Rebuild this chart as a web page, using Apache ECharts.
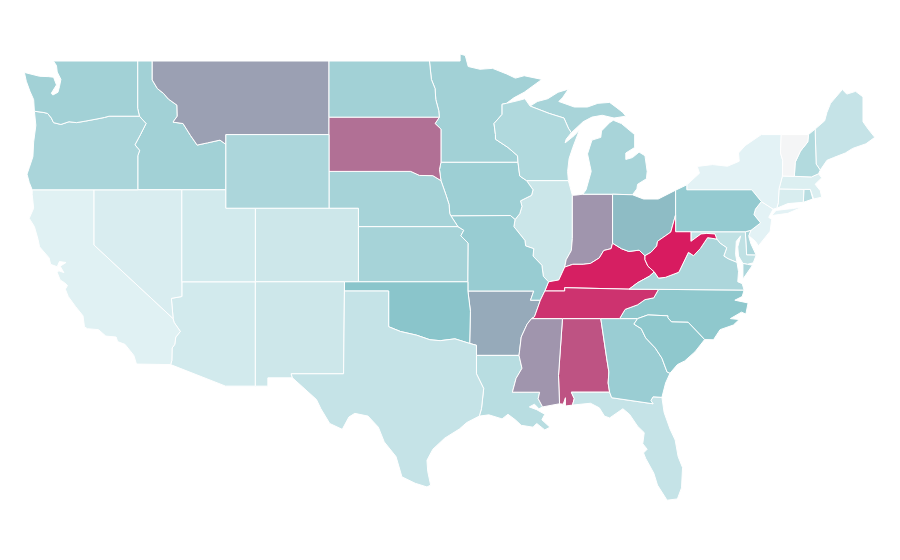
<!DOCTYPE html>
<html>
<head>
<meta charset="utf-8">
<style>html,body{margin:0;padding:0;background:#fff}#c{width:900px;height:560px}</style>
<script src="https://cdn.jsdelivr.net/npm/echarts@6/dist/echarts.min.js"></script>
</head>
<body>
<div id="c"></div>
<script>
// ---- chart values ----
const stateNames = ['Alabama','Arizona','Arkansas','California','Colorado','Connecticut','Delaware','Florida','Georgia','Idaho','Illinois','Indiana','Iowa','Kansas','Kentucky','Louisiana','Maine','Maryland','Massachusetts','Michigan','Minnesota','Mississippi','Missouri','Montana','Nebraska','Nevada','New Hampshire','New Jersey','New Mexico','New York','North Carolina','North Dakota','Ohio','Oklahoma','Oregon','Pennsylvania','Rhode Island','South Carolina','South Dakota','Tennessee','Texas','Utah','Vermont','Virginia','Washington','West Virginia','Wisconsin','Wyoming'];
const stateValues = [89,40,72,35,41.8,37.7,54,44.8,60.7,57.7,42.5,76,59.6,56.2,99.3,49.6,44.8,46.6,36.3,55.5,57.7,76,61.4,74,56.2,37.4,51.8,33.7,41.8,33.7,64.8,57.7,68.4,66.7,54.8,62.9,49.6,64.8,83.4,95.3,44.8,40,0,54,57.7,100,52.5,54];
const scaleColors = ['#f4f5f6','#e4f3f5','#8ac5cb','#d81b60'];

// ---- state outlines, longitude / latitude ----
const r = a => a.slice().reverse();
const WA_COAST=[[-122.76,49],[-122.55,48.75],[-122.5,48.4],[-122.25,48.0],[-122.35,47.6],[-122.45,47.3],[-122.8,47.15],[-122.9,47.25],[-122.55,47.7],[-122.75,48.12],[-123.1,48.15],[-123.7,48.17],[-124.73,48.38],[-124.6,47.9],[-124.35,47.35],[-124.1,46.9],[-124.05,46.27]];
const COLUMBIA=[[-124.05,46.27],[-123.4,46.2],[-123.15,46.15],[-122.9,45.9],[-122.75,45.65],[-122.25,45.55],[-121.7,45.7],[-121.2,45.65],[-120.6,45.73],[-119.8,45.85],[-119.3,45.93],[-118.98,46.0],[-116.92,46.0]];
const ID_WA=[[-117.04,49],[-117.04,46.43],[-116.92,46.0]];
const SNAKE=[[-116.92,46.0],[-116.47,45.6],[-116.85,45.0],[-117.22,44.45],[-117.03,44.25],[-116.9,44.15],[-117.03,43.85],[-117.03,42]];
const OR_COAST=[[-124.05,46.27],[-123.95,45.5],[-124.1,44.6],[-124.15,43.8],[-124.4,43.2],[-124.55,42.85],[-124.4,42.4],[-124.2,42]];
const BITTERROOT=[[-116.05,49],[-116.05,47.97],[-115.7,47.5],[-115.3,47.25],[-114.95,46.93],[-114.37,46.6],[-114.35,46.0],[-114.64,45.68],[-113.96,45.6],[-113.45,44.95],[-113.0,44.43],[-112.3,44.55],[-111.45,44.7],[-111.05,44.47]];
const CA_COAST=[[-124.2,42],[-124.2,41.75],[-124.1,41],[-124.4,40.45],[-124.05,40],[-123.8,39.3],[-123.7,38.9],[-123.05,38.3],[-122.95,37.95],[-122.5,37.82],[-122.35,38.1],[-121.9,38.05],[-122.3,37.85],[-122.05,37.5],[-122.4,37.6],[-122.5,37.5],[-122.3,37.1],[-122.0,36.95],[-121.8,36.8],[-121.95,36.6],[-121.75,36.2],[-121.25,35.65],[-120.75,35.15],[-120.65,34.55],[-120.45,34.45],[-119.7,34.4],[-119.2,34.05],[-118.5,34.0],[-118.4,33.75],[-117.9,33.6],[-117.3,33.0],[-117.12,32.53]];
const COLO=[[-114.63,35.0],[-114.57,34.8],[-114.14,34.3],[-114.45,34.0],[-114.52,33.6],[-114.7,33.4],[-114.72,32.72]];
const ND_MN=[[-97.23,49],[-97.1,48.0],[-96.85,47.5],[-96.8,46.9],[-96.6,46.3],[-96.56,45.94]];
const SD_MN=[[-96.56,45.94],[-96.85,45.6],[-96.45,45.3],[-96.45,43.5]];
const SD_IA=[[-96.45,43.5],[-96.55,43.1],[-96.45,42.5]];
const SD_NE=[[-96.45,42.5],[-97.0,42.77],[-97.9,42.78],[-98.5,43.0],[-104.05,43.0]];
const NE_IA=[[-96.45,42.5],[-96.1,41.7],[-95.9,41.2],[-95.85,40.7],[-95.77,40.58]];
const NE_MO=[[-95.77,40.58],[-95.3,40]];
const KS_MO=[[-95.3,40],[-94.9,39.8],[-95.1,39.5],[-94.6,39.1],[-94.62,37]];
const RED=[[-100,34.56],[-99.2,34.3],[-98.1,34.1],[-97.2,33.85],[-96.5,33.8],[-95.5,33.9],[-94.5,33.65]];
const MN_WI=[[-92.0,46.7],[-92.3,46.65],[-92.3,46.1],[-92.85,45.6],[-92.75,45.0],[-92.75,44.75],[-91.9,44.3],[-91.25,43.85],[-91.22,43.5]];
const IA_WI=[[-91.22,43.5],[-91.1,42.75],[-90.64,42.5]];
const IA_IL=[[-90.64,42.5],[-90.2,42.0],[-90.3,41.7],[-91.05,41.4],[-90.95,41.1],[-91.1,40.7],[-91.42,40.38]];
const MO_IL=[[-91.42,40.38],[-91.5,40.0],[-90.75,39.25],[-90.7,38.95],[-90.15,38.8],[-90.2,38.4],[-89.6,37.9],[-89.5,37.3],[-89.15,37.0]];
const AR_TN=[[-89.7,36.0],[-90.1,35.1],[-90.3,35.0]];
const AR_MS=[[-90.3,35.0],[-90.6,34.7],[-91.0,34.0],[-91.15,33.0]];
const LA_MS=[[-91.15,33.0],[-90.95,32.3],[-91.35,31.75],[-91.6,31.0],[-89.75,31.0],[-89.85,30.65],[-89.55,30.2]];
const WI_MI=[[-90.4,46.55],[-89.1,46.15],[-88.1,45.9],[-87.8,45.35],[-87.6,45.1]];
const WABASH=[[-87.53,39.35],[-87.6,38.7],[-87.95,38.2],[-88.05,37.8]];
const IL_KY=[[-88.05,37.8],[-88.45,37.1],[-89.15,37.0]];
const IN_KY=[[-84.8,39.1],[-84.9,38.8],[-85.4,38.7],[-85.7,38.3],[-86.3,38.0],[-86.8,37.95],[-87.5,37.95],[-88.05,37.8]];
const OH_KY=[[-82.6,38.42],[-83.0,38.72],[-83.7,38.65],[-84.2,38.8],[-84.8,39.1]];
const WV_KY=[[-81.97,37.54],[-82.4,37.85],[-82.6,38.2],[-82.6,38.42]];
const VA_KY=[[-83.68,36.6],[-83.1,36.95],[-82.3,37.3],[-81.97,37.54]];
const OH_WV=[[-80.52,40.64],[-80.85,39.7],[-81.75,39.2],[-81.8,38.95],[-82.2,38.6],[-82.6,38.42]];
const MD_WV=[[-79.48,39.2],[-78.8,39.6],[-78.4,39.63],[-77.85,39.6],[-77.72,39.32]];
const WV_VA=[[-77.72,39.32],[-78.35,39.4],[-78.85,38.8],[-79.3,38.42],[-79.65,38.6],[-80.3,37.52],[-81.22,37.24],[-81.68,37.2],[-81.97,37.54]];
const POTOMAC=[[-77.72,39.32],[-77.5,39.1],[-77.05,38.85],[-77.25,38.4],[-76.95,38.25],[-76.35,38.05]];
const TN_NC=[[-81.68,36.59],[-82.0,36.13],[-82.6,36.03],[-83.1,35.75],[-83.95,35.5],[-84.32,35.0]];
const NC_SC=[[-83.1,35.0],[-82.4,35.2],[-81.05,35.15],[-81.05,35.05],[-80.8,34.82],[-79.67,34.8],[-78.55,33.86]];
const GA_SC=[[-83.1,35.0],[-83.35,34.7],[-82.85,34.45],[-82.55,33.95],[-81.9,33.4],[-81.45,32.85],[-81.1,32.1],[-80.9,32.03]];
const FL_GA=[[-81.45,30.72],[-82.05,30.75],[-82.2,30.55],[-82.05,30.37],[-84.86,30.7],[-85.0,31.0]];
const AL_GA=[[-85.6,35.0],[-85.2,32.85],[-85.05,32.1],[-85.1,31.5],[-85.0,31.0]];
const AL_FL=[[-85.0,31.0],[-87.6,31.0],[-87.4,30.65],[-87.52,30.3]];
const AL_MS=[[-88.2,35.0],[-88.47,31.9],[-88.4,30.37]];
const TX_LA=[[-93.85,29.7],[-93.7,30.1],[-93.55,31.2],[-94.04,32.0],[-94.04,33.0]];
const NY_VT=[[-73.35,45.0],[-73.4,44.0],[-73.25,43.6],[-73.27,42.75]];
const NY_NE=[[-73.27,42.75],[-73.5,42.05],[-73.55,41.3],[-73.65,41.0]];
const VT_NH=[[-71.5,45.0],[-71.55,44.6],[-72.05,44.1],[-72.4,43.5],[-72.46,42.73]];
const NH_MA=[[-72.46,42.73],[-71.3,42.7],[-70.82,42.87]];
const NH_ME=[[-71.05,45.3],[-70.98,43.4],[-70.7,43.07]];
const PA_DEL=[[-75.35,42],[-74.7,41.36],[-75.1,40.95],[-75.2,40.65],[-74.75,40.2],[-75.4,39.8]];

const shapes = {
 Washington:[[...ID_WA,...r(COLUMBIA),...r(WA_COAST)]],
 Oregon:[[...COLUMBIA,...SNAKE,...r(OR_COAST)]],
 Idaho:[[[-117.04,49],...BITTERROOT,[-111.05,42],...r(SNAKE),...r(ID_WA)]],
 Montana:[[[-104.05,49],[-104.05,45],[-111.05,45],...r(BITTERROOT)]],
 Wyoming:[[[-111.05,45],[-104.05,45],[-104.05,41],[-111.05,41]]],
 California:[[[-120,42],[-120,39],...COLO,[-114.8,32.5],...r(CA_COAST)]],
 Nevada:[[[-120,42],[-114.04,42],[-114.04,36.2],[-114.75,36.1],[-114.63,35],[-120,39]]],
 Arizona:[[[-114.04,37],[-109.05,37],[-109.05,31.33],[-111.07,31.33],[-114.8,32.5],...r(COLO),[-114.75,36.1],[-114.04,36.2]]],
 Utah:[[[-114.04,42],[-111.05,42],[-111.05,41],[-109.05,41],[-109.05,37],[-114.04,37]]],
 Colorado:[[[-109.05,41],[-102.05,41],[-102.05,37],[-109.05,37]]],
 'New Mexico':[[[-109.05,37],[-103,37],[-103.06,32],[-106.62,32],[-106.53,31.78],[-108.2,31.78],[-108.2,31.33],[-109.05,31.33]]],
 'North Dakota':[[[-104.05,49],...ND_MN,[-104.05,45.94]]],
 'South Dakota':[[[-104.05,45.94],...SD_MN,...SD_IA,...SD_NE]],
 Nebraska:[[[-104.05,43],...r(SD_NE),...NE_IA,...NE_MO,[-102.05,40],[-102.05,41],[-104.05,41]]],
 Kansas:[[[-102.05,40],...KS_MO,[-102.05,37]]],
 Oklahoma:[[[-103,37],[-94.62,37],[-94.62,36.5],[-94.45,35.4],...r(RED),[-100,36.5],[-103,36.5]]],
 Texas:[[[-103,36.5],[-100,36.5],...RED,[-94.04,33.55],...r(TX_LA),[-94.7,29.35],[-95.2,29.0],[-96.2,28.5],[-97.0,27.9],[-97.4,27.3],[-97.35,26.7],[-97.15,25.95],[-97.4,25.85],[-98.2,26.05],[-99.1,26.4],[-99.5,27.5],[-100.3,28.3],[-100.7,29.1],[-101.4,29.7],[-102.3,29.85],[-102.7,29.65],[-103.15,28.98],[-104.0,29.3],[-104.6,30.1],[-104.9,30.6],[-106.53,31.78],[-106.62,32],[-103.06,32]]],
 Minnesota:[[[-97.23,49],[-95.15,49],[-95.15,49.38],[-94.8,49.3],[-94.6,48.7],[-93.8,48.55],[-92.95,48.6],[-92.0,48.3],[-91.4,48.07],[-90.8,48.2],[-89.6,48.0],[-90.8,47.3],[-91.5,47.0],...MN_WI,...r(SD_MN),...r(ND_MN)]],
 Iowa:[[[-96.45,43.5],[-91.22,43.5],...IA_WI,...IA_IL,[-91.73,40.6],[-95.77,40.58],...r(NE_IA),...r(SD_IA)]],
 Missouri:[[[-95.77,40.58],[-91.73,40.6],...MO_IL,[-89.4,36.5],[-89.7,36.0],[-90.37,36.0],[-90.15,36.5],[-94.62,36.5],...r(KS_MO)]],
 Arkansas:[[[-94.62,36.5],[-90.15,36.5],[-90.37,36.0],...AR_TN,...AR_MS,[-94.04,33.0],[-94.04,33.55],[-94.5,33.65],[-94.45,35.4]]],
 Louisiana:[[[-94.04,33.0],...LA_MS,[-89.8,30.1],[-90.1,30.35],[-90.45,30.2],[-89.95,30.05],[-89.4,29.8],[-89.6,29.5],[-89.05,29.1],[-89.4,28.95],[-89.95,29.3],[-90.2,29.1],[-91.0,29.2],[-91.4,29.5],[-91.9,29.8],[-92.3,29.55],[-93.2,29.77],...TX_LA]],
 Wisconsin:[[...r(IA_WI),...r(MN_WI),[-91.2,46.85],[-90.75,46.95],...WI_MI,[-87.95,44.75],[-88.02,44.55],[-87.4,44.95],[-87.05,45.25],[-87.5,44.3],[-87.75,43.7],[-87.85,43.0],[-87.8,42.5]]],
 Michigan:[
  [...WI_MI,[-86.8,45.7],[-86.2,45.95],[-85.5,46.05],[-84.7,45.9],[-83.9,46.0],[-84.1,46.2],[-84.5,46.45],[-85.0,46.75],[-85.8,46.7],[-86.5,46.5],[-87.4,46.5],[-88.45,46.8],[-88.2,47.0],[-87.8,47.47],[-88.5,47.3],[-89.2,46.95],[-89.9,46.8]],
  [[-86.82,41.76],[-84.8,41.76],[-83.45,41.73],[-83.15,42.05],[-83.1,42.3],[-82.5,42.6],[-82.45,43.0],[-82.6,43.85],[-83.0,44.05],[-83.45,43.75],[-83.9,43.65],[-83.9,44.0],[-83.3,44.3],[-83.3,45.0],[-84.2,45.6],[-84.75,45.78],[-85.0,45.65],[-85.55,45.2],[-85.6,44.85],[-86.2,44.7],[-86.5,43.95],[-86.25,43.0],[-86.6,42.0]]
 ],
 Illinois:[[[-90.64,42.5],[-87.8,42.5],[-87.53,41.7],...WABASH,...IL_KY,...r(MO_IL),...r(IA_IL)]],
 Indiana:[[[-87.53,41.7],[-87.2,41.72],[-86.82,41.76],[-84.8,41.76],...IN_KY,...r(WABASH)]],
 Ohio:[[[-84.8,41.76],[-83.45,41.73],[-82.7,41.5],[-81.7,41.5],[-80.52,41.98],...OH_WV,...OH_KY]],
 Kentucky:[[...VA_KY,...WV_KY,...OH_KY,...IN_KY,...IL_KY,[-89.4,36.5],[-88.05,36.5],[-88.05,36.68]]],
 'West Virginia':[[[-80.52,40.64],[-80.52,39.72],[-79.48,39.72],...MD_WV,...WV_VA,...WV_KY,...r(OH_WV)]],
 Virginia:[
  [...VA_KY,...r(WV_VA),...POTOMAC,[-76.25,37.55],[-76.3,37.0],[-76.0,36.9],[-75.87,36.55],[-81.68,36.59]],
  [[-75.95,37.15],[-75.95,38.0],[-75.65,37.95],[-75.3,37.9]]
 ],
 Maryland:[[[-79.48,39.72],[-75.79,39.72],[-75.7,38.46],[-75.05,38.45],[-75.25,38.03],[-75.65,37.95],[-75.95,38.0],[-76.25,38.4],[-76.3,38.9],[-76.1,39.5],[-76.4,39.2],[-76.45,38.5],...r(POTOMAC),...r(MD_WV)]],
 Delaware:[[[-75.79,39.72],[-75.4,39.8],[-75.55,39.45],[-75.4,39.05],[-75.05,38.45],[-75.7,38.46]]],
 Pennsylvania:[[[-80.52,41.98],[-79.76,42.27],[-79.76,42],...PA_DEL,[-75.79,39.72],[-80.52,39.72],[-80.52,40.64]]],
 'New York':[
  [[-79.76,42.27],[-78.9,42.9],[-79.05,43.27],[-78.0,43.37],[-77.0,43.28],[-76.2,43.55],[-76.25,44.0],[-75.8,44.4],[-74.7,45.0],...NY_VT,...NY_NE,[-73.9,40.95],[-74.7,41.36],[-75.35,42],[-79.76,42]],
  [[-74.0,40.6],[-72.9,40.72],[-71.9,41.07],[-72.6,40.98],[-73.7,40.88]]
 ],
 'New Jersey':[[[-74.7,41.36],[-73.9,40.95],[-74.2,40.5],[-74.0,40.4],[-74.1,39.75],[-74.9,38.95],[-75.1,39.2],[-75.55,39.5],[-75.4,39.8],...r(PA_DEL).slice(1,-1)]],
 Connecticut:[[[-73.5,42.05],[-71.8,42.02],[-71.85,41.32],[-72.9,41.25],[-73.65,41.0],[-73.55,41.3]]],
 'Rhode Island':[[[-71.8,42.02],[-71.38,42.02],[-71.2,41.5],[-71.85,41.32]]],
 Massachusetts:[[[-73.27,42.75],...NH_MA,[-70.6,42.65],[-71.05,42.3],[-70.7,41.95],[-70.6,41.6],[-71.15,41.5],[-71.2,41.5],[-71.38,42.02],[-71.8,42.02],[-73.5,42.05]]],
 Vermont:[[[-73.35,45.0],...VT_NH,...r(NY_VT).slice(0,-1)]],
 'New Hampshire':[[...VT_NH,...NH_MA,[-70.7,43.07],...r(NH_ME)]],
 Maine:[[...NH_ME,[-70.25,43.6],[-69.8,43.75],[-69.0,44.0],[-68.5,44.25],[-67.6,44.5],[-67.0,44.85],[-67.45,45.3],[-67.8,45.7],[-67.8,47.05],[-68.3,47.35],[-68.9,47.2],[-69.2,47.45],[-70.0,46.7],[-70.25,46.2],[-70.4,45.75]]],
 'North Carolina':[[...TN_NC,[-83.1,35.0],...NC_SC,[-77.95,33.85],[-77.5,34.4],[-76.6,34.65],[-76.2,34.95],[-76.8,35.0],[-76.05,35.35],[-75.75,35.25],[-75.6,35.85],[-76.5,36.0],[-76.0,36.2],[-75.87,36.55]]],
 'South Carolina':[[...NC_SC,[-79.2,33.2],[-79.9,32.7],[-80.4,32.5],...r(GA_SC)]],
 Georgia:[[...AL_GA.slice(0,1),[-84.32,35.0],...GA_SC,[-81.2,31.5],...FL_GA,...r(AL_GA).slice(1)]],
 Tennessee:[[[-89.4,36.5],[-88.05,36.5],[-88.05,36.68],[-83.68,36.6],...TN_NC,[-85.6,35.0],[-88.2,35.0],[-90.3,35.0],...r(AR_TN)]],
 Alabama:[[...AL_GA,...AL_FL,[-88.0,30.25],[-88.0,30.7],[-88.15,30.35],...r(AL_MS)]],
 Mississippi:[[[-90.3,35.0],...AL_MS,[-89.55,30.2],[-89.85,30.65],[-89.75,31.0],[-91.6,31.0],[-91.35,31.75],[-90.95,32.3],...r(AR_MS)]],
 Florida:[[...r(AL_FL).slice(0,-1),...r(FL_GA),[-81.3,29.9],[-80.9,29.0],[-80.55,28.4],[-80.35,27.5],[-80.05,26.9],[-80.12,25.8],[-80.4,25.2],[-81.1,25.13],[-81.75,25.95],[-82.0,26.6],[-82.55,27.4],[-82.7,27.7],[-82.45,27.9],[-82.75,28.2],[-82.65,28.8],[-83.1,29.15],[-83.65,29.8],[-84.1,30.1],[-85.0,29.6],[-85.35,29.7],[-85.7,30.15],[-86.3,30.4]]]
};

const usa = {type:'FeatureCollection',features:stateNames.map(n=>({
  type:'Feature',properties:{name:n},
  geometry:{type:'MultiPolygon',coordinates:shapes[n].map(p=>[p.concat([p[0]])])}
}))};
echarts.registerMap('usa',usa);

const chart = echarts.init(document.getElementById('c'),null,{renderer:'canvas'});
chart.setOption({
  animation:false,
  backgroundColor:'#fff',
  tooltip:{show:false},
  visualMap:{show:false,type:'continuous',min:0,max:100,inRange:{color:scaleColors}},
  series:[{
    type:'map',map:'usa',roam:false,silent:true,
    boundingCoords:[[-125,50],[-66,25]],
    aspectScale:0.8005,
    left:20.4,top:42.6,width:869.1,height:460,
    label:{show:false},
    itemStyle:{borderColor:'#fff',borderWidth:1},
    emphasis:{disabled:true},
    select:{disabled:true},
    data:stateNames.map((n,i)=>({name:n,value:stateValues[i]}))
  }]
});
</script>
</body>
</html>
